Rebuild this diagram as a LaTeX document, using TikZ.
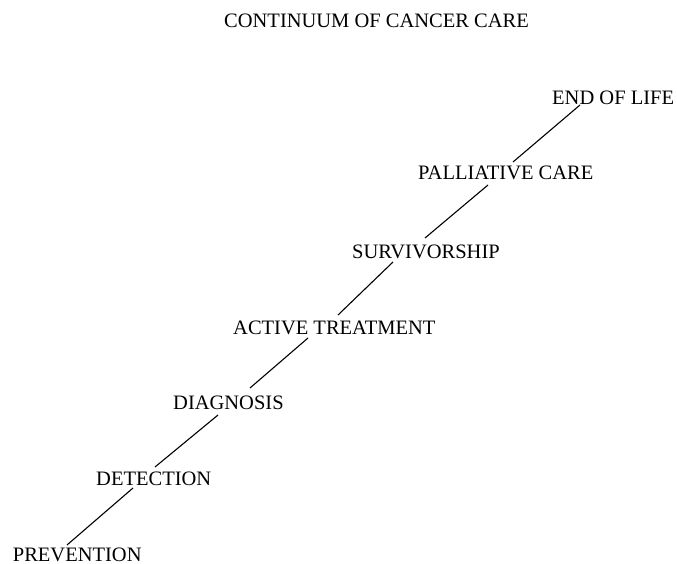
\documentclass[tikz,border=0pt]{standalone}
\usepackage{fontspec}
\setmainfont{Liberation Serif}
\begin{document}
\begin{tikzpicture}[x=1pt,y=-1pt,
  lbl/.style={anchor=base west,inner sep=0pt,font=\fontsize{20.5}{24}\selectfont},
  conn/.style={line width=1.1pt}]
\useasboundingbox (0,0) rectangle (677,564);
\node[lbl] (title) at (224,28) {CONTINUUM OF CANCER CARE};
\node[lbl] (prev) at (12.7,561) {PREVENTION};
\node[lbl] (det) at (96,485) {DETECTION};
\node[lbl] (diag) at (173,409) {DIAGNOSIS};
\node[lbl] (act) at (233,334) {ACTIVE TREATMENT};
\node[lbl] (surv) at (352,258) {SURVIVORSHIP};
\node[lbl] (pall) at (418,180) {PALLIATIVE CARE};
\node[lbl] (eol) at (552,105) {END OF LIFE};
\draw[conn] ([shift={(54.3,-16)}]prev.base west) -- ([shift={(37,3)}]det.base west);
\draw[conn] ([shift={(59,-18)}]det.base west) -- ([shift={(45,6)}]diag.base west);
\draw[conn] ([shift={(77,-21)}]diag.base west) -- ([shift={(75,4)}]act.base west);
\draw[conn] ([shift={(105,-19)}]act.base west) -- ([shift={(41,4)}]surv.base west);
\draw[conn] ([shift={(73,-20)}]surv.base west) -- ([shift={(70,5)}]pall.base west);
\draw[conn] ([shift={(95,-18)}]pall.base west) -- ([shift={(28,0)}]eol.base west);
\end{tikzpicture}
\end{document}
